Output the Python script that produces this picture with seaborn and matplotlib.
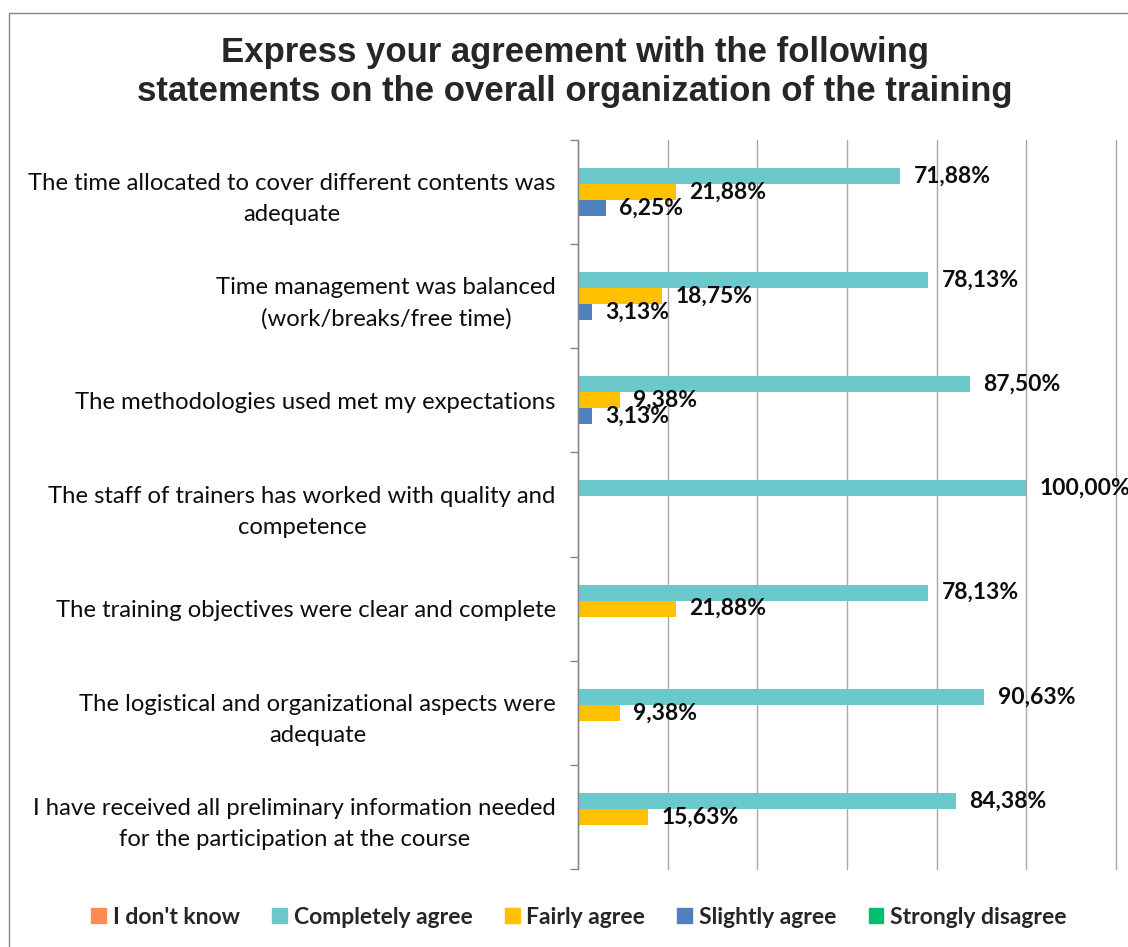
import pandas as pd
import matplotlib
matplotlib.use('Agg')
import matplotlib.pyplot as plt
from matplotlib.patches import Patch, Rectangle
import seaborn as sns

# 설문 문항 (위에서 아래 순서)
statements = [
    'The time allocated to cover different contents was\nadequate',
    'Time management was balanced\n(work/breaks/free time)',
    'The methodologies used met my expectations',
    'The staff of trainers has worked with quality and\ncompetence',
    'The training objectives were clear and complete',
    'The logistical and organizational aspects were\nadequate',
    'I have received all preliminary information needed\nfor the participation at the course',
]
responses = ["I don't know", 'Completely agree', 'Fairly agree', 'Slightly agree', 'Strongly disagree']
colors = ['#FF8B50', '#6BC9CC', '#FFC000', '#4F7FBC', '#00BF6F']

# 응답 비율 (%), None = 응답 없음
dont_know = [None, None, None, None, None, None, None]
completely = [71.88, 78.13, 87.50, 100.00, 78.13, 90.63, 84.38]
fairly = [21.88, 18.75, 9.38, None, 21.88, 9.38, 15.63]
slightly = [6.25, 3.13, 3.13, None, None, None, None]
strongly_dis = [None, None, None, None, None, None, None]

series = [dont_know, completely, fairly, slightly, strongly_dis]
rows = []
for resp, vals in zip(responses, series):
    for st, v in zip(statements, vals):
        if v is not None:
            rows.append({'statement': st, 'response': resp, 'value': v})
df = pd.DataFrame(rows)

sns.set_style('white')
plt.rcParams['font.family'] = ['Lato', 'DejaVu Sans']

fig = plt.figure(figsize=(11.28, 9.47), dpi=100)
ax = fig.add_axes([578 / 1128, 1 - 869 / 947, (1116 - 578) / 1128, (869 - 140) / 947])

sns.barplot(data=df, y='statement', x='value', hue='response', order=statements,
            hue_order=responses, palette=dict(zip(responses, colors)), orient='h',
            width=0.77, errorbar=None, legend=False, linewidth=0, saturation=1, ax=ax)

# 막대 끝 값 라벨
for cont in ax.containers:
    labels = [f'{w:.2f}%'.replace('.', ',') for w in cont.datavalues]
    ax.bar_label(cont, labels=labels, padding=9.5, fontsize=16.5, fontweight='bold',
                 color='#0D0D0D', clip_on=False)

ax.set_xlim(0, 120)
ax.set_xticks(range(0, 121, 20))
ax.set_xticklabels([])
ax.tick_params(axis='x', length=0)
ax.xaxis.grid(True, color='#A6A6A6', lw=1)
ax.set_axisbelow(True)
for gl in ax.get_xgridlines():
    gl.set_clip_on(False)

ax.set_ylim(6.5, -0.5)
ax.set_yticks(range(len(statements)))
ax.set_yticklabels(statements, fontsize=17.2, color='#0D0D0D', linespacing=1.6)
for t in ax.get_yticklabels():
    t.set_multialignment('center')
ax.set_yticks([i - 0.5 for i in range(len(statements) + 1)], minor=True)
ax.tick_params(axis='y', which='major', length=0, pad=16)
ax.tick_params(axis='y', which='minor', length=6, width=1, color='#868686', left=True)

for s in ['top', 'right', 'bottom']:
    ax.spines[s].set_visible(False)
ax.spines['left'].set_color('#868686')
ax.spines['left'].set_linewidth(1)
ax.set_xlabel('')
ax.set_ylabel('')

fig.text(575 / 1128, 1 - 72 / 947,
         'Express your agreement with the following\nstatements on the overall organization of the training',
         ha='center', va='center', fontsize=25, fontweight='bold',
         family=['Liberation Sans', 'DejaVu Sans'], linespacing=1.2)

handles = [Patch(color=c, label=r) for r, c in zip(responses, colors)]
fig.legend(handles=handles, loc='center', bbox_to_anchor=(579 / 1128, 1 - 917 / 947), ncol=5,
           frameon=False, handlelength=0.65, handleheight=0.65, handletextpad=0.3,
           columnspacing=1.4, prop={'size': 16.5, 'weight': 'bold'})

# 차트 외곽선
fig.patches.append(Rectangle((9 / 1128, -0.05), 1.1, 1.05 - 13 / 947, transform=fig.transFigure,
                             fill=False, edgecolor='#868686', lw=1))

fig.savefig('out.png', dpi=100)
